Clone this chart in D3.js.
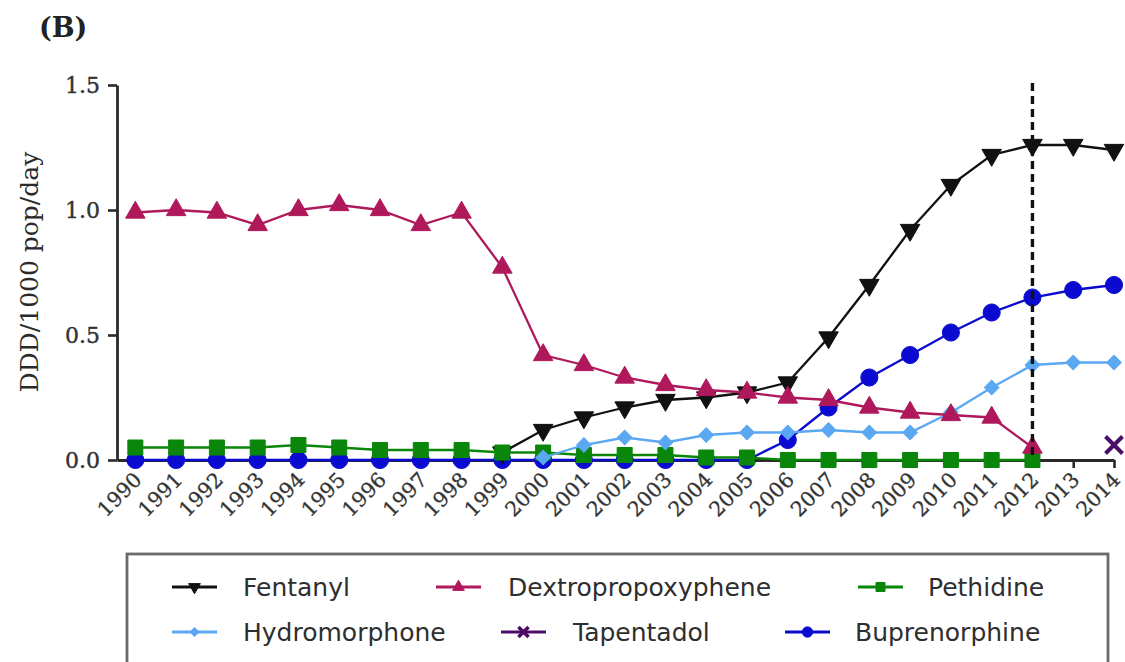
<!DOCTYPE html>
<html>
<head>
<meta charset="utf-8">
<script src="https://cdn.jsdelivr.net/npm/d3@7/dist/d3.min.js"></script>
<style>
  html, body { margin: 0; padding: 0; background: #fff; }
  svg { display: block; }
</style>
</head>
<body>
<svg id="chart" width="1125" height="662"></svg>
<script>
// Opioid consumption, DDD per 1000 population per day, 1990–2014
const years = [1990, 1991, 1992, 1993, 1994, 1995, 1996, 1997, 1998, 1999,
               2000, 2001, 2002, 2003, 2004, 2005, 2006, 2007, 2008, 2009,
               2010, 2011, 2012, 2013, 2014];

const fentanyl = [null, null, null, null, null, null, null, null, null, 0.03,
                  0.12, 0.17, 0.21, 0.24, 0.25, 0.27, 0.31, 0.49, 0.70, 0.92,
                  1.10, 1.22, 1.26, 1.26, 1.24];

const dextropropoxyphene = [0.99, 1.00, 0.99, 0.94, 1.00, 1.02, 1.00, 0.94, 0.99, 0.77,
                            0.42, 0.38, 0.33, 0.30, 0.28, 0.27, 0.25, 0.24, 0.21, 0.19,
                            0.18, 0.17, 0.05, null, null];

const pethidine = [0.05, 0.05, 0.05, 0.05, 0.06, 0.05, 0.04, 0.04, 0.04, 0.03,
                   0.03, 0.02, 0.02, 0.02, 0.01, 0.01, 0.00, 0.00, 0.00, 0.00,
                   0.00, 0.00, 0.00, null, null];

const hydromorphone = [null, null, null, null, null, null, null, null, null, null,
                       0.01, 0.06, 0.09, 0.07, 0.10, 0.11, 0.11, 0.12, 0.11, 0.11,
                       0.19, 0.29, 0.38, 0.39, 0.39];

const tapentadol = [null, null, null, null, null, null, null, null, null, null,
                    null, null, null, null, null, null, null, null, null, null,
                    null, null, null, null, 0.06];

const buprenorphine = [0, 0, 0, 0, 0, 0, 0, 0, 0, 0,
                       0, 0, 0, 0, 0, 0, 0.08, 0.21, 0.33, 0.42,
                       0.51, 0.59, 0.65, 0.68, 0.70];

const yTicks = [0, 0.5, 1.0, 1.5];
const markerYear = 2012;   // vertical reference line

const svg = d3.select("#chart");

const x = d3.scaleLinear().domain([1989.55, 2014]).range([117, 1114]);
const y = d3.scaleLinear().domain([0, 1.5]).range([460, 85]);

// series styling, listed in drawing order
const series = [
  { name: "Buprenorphine",      values: buprenorphine,      color: "#0a0ad0", shape: "circle" },
  { name: "Fentanyl",           values: fentanyl,           color: "#111111", shape: "down" },
  { name: "Pethidine",          values: pethidine,          color: "#0a860a", shape: "square" },
  { name: "Hydromorphone",      values: hydromorphone,      color: "#5aa8f2", shape: "diamond" },
  { name: "Dextropropoxyphene", values: dextropropoxyphene, color: "#b0185c", shape: "up" },
  { name: "Tapentadol",         values: tapentadol,         color: "#4a0d68", shape: "x" }
];

function symbolPath(shape, scale) {
  const s = scale || 1;
  switch (shape) {
    case "circle":  return d3.symbol(d3.symbolCircle, 230 * s * s)();
    case "square":  return d3.symbol(d3.symbolSquare, 225 * s * s)();
    case "diamond": return d3.symbol(d3.symbolSquare, 105 * s * s)();
    case "up":      return d3.symbol(d3.symbolTriangle, 165 * s * s)();
    case "down":    return d3.symbol(d3.symbolTriangle, 165 * s * s)();
    case "x":       return d3.symbol(d3.symbolX, 190 * s * s)();
  }
}
function symbolRotate(shape) {
  if (shape === "down") return 180;
  if (shape === "diamond") return 45;
  return 0;
}

// panel label
svg.append("text")
  .attr("x", 39).attr("y", 37)
  .attr("font-family", "DejaVu Serif")
  .attr("font-weight", "bold")
  .attr("font-size", 27)
  .attr("fill", "#222")
  .text("(B)");

// y axis
const yAxis = svg.append("g")
  .attr("transform", `translate(${x.range()[0]},0)`)
  .call(d3.axisLeft(y).tickValues(yTicks).tickFormat(d3.format(".1f")).tickSize(9).tickSizeOuter(0));
yAxis.select(".domain").attr("stroke", "#2a2a2a").attr("stroke-width", 2.8);
yAxis.selectAll(".tick line").attr("stroke", "#2a2a2a").attr("stroke-width", 2.6);
yAxis.selectAll(".tick text")
  .attr("x", -17)
  .attr("font-family", "DejaVu Serif")
  .attr("font-size", 22)
  .attr("fill", "#333")
  .attr("stroke", "#333")
  .attr("stroke-width", 0.4);

svg.append("text")
  .attr("transform", `translate(38,272) rotate(-90)`)
  .attr("text-anchor", "middle")
  .attr("font-family", "DejaVu Serif")
  .attr("font-size", 25)
  .attr("fill", "#2a2a2a")
  .text("DDD/1000 pop/day");

// x axis
const xAxis = svg.append("g")
  .attr("transform", `translate(0,${y(0)})`)
  .call(d3.axisBottom(x).tickValues(years).tickFormat(d3.format("d")).tickSize(8).tickSizeOuter(0));
xAxis.select(".domain").attr("stroke", "#2a2a2a").attr("stroke-width", 2.8);
xAxis.selectAll(".tick line").attr("stroke", "#2a2a2a").attr("stroke-width", 2.6);
xAxis.selectAll(".tick text")
  .attr("x", 0).attr("y", 0).attr("dy", "0.35em")
  .attr("transform", "translate(2,16) rotate(-45)")
  .attr("text-anchor", "end")
  .attr("font-family", "DejaVu Serif")
  .attr("font-size", 20.5)
  .attr("fill", "#333")
  .attr("stroke", "#333")
  .attr("stroke-width", 0.3);

// series lines and markers
const line = d3.line()
  .defined(d => d.v !== null)
  .x(d => x(d.year))
  .y(d => y(d.v));

series.forEach(s => {
  const pts = years.map((yr, i) => ({ year: yr, v: s.values[i] }));
  const g = svg.append("g");
  g.append("path")
    .datum(pts)
    .attr("fill", "none")
    .attr("stroke", s.color)
    .attr("stroke-width", 2.3)
    .attr("d", line);
  g.selectAll("path.mk")
    .data(pts.filter(d => d.v !== null))
    .join("path")
    .attr("class", "mk")
    .attr("transform", d => `translate(${x(d.year)},${y(d.v)}) rotate(${symbolRotate(s.shape)})`)
    .attr("d", symbolPath(s.shape))
    .attr("fill", s.shape === "x" ? "none" : s.color)
    .attr("stroke", s.color)
    .attr("stroke-width", s.shape === "x" ? 4 : 1);
});

// dashed reference line
svg.append("line")
  .attr("x1", x(markerYear)).attr("x2", x(markerYear))
  .attr("y1", y(1.5) - 2).attr("y2", y(0))
  .attr("stroke", "#111")
  .attr("stroke-width", 3.4)
  .attr("stroke-dasharray", "8,5");

// legend
svg.append("rect")
  .attr("x", 127).attr("y", 554)
  .attr("width", 981).attr("height", 160)
  .attr("fill", "#fff")
  .attr("stroke", "#6a6a6a")
  .attr("stroke-width", 2.8);

const legendItems = [
  { name: "Fentanyl",           sx: 172, tx: 243, row: 0 },
  { name: "Dextropropoxyphene", sx: 436, tx: 508, row: 0 },
  { name: "Pethidine",          sx: 858, tx: 928, row: 0 },
  { name: "Hydromorphone",      sx: 172, tx: 243, row: 1 },
  { name: "Tapentadol",         sx: 501, tx: 573, row: 1 },
  { name: "Buprenorphine",      sx: 785, tx: 855, row: 1 }
];
const rowY = [587, 632];

legendItems.forEach(item => {
  const s = series.find(d => d.name === item.name);
  const cy = rowY[item.row];
  const g = svg.append("g");
  g.append("line")
    .attr("x1", item.sx).attr("x2", item.sx + 45)
    .attr("y1", cy).attr("y2", cy)
    .attr("stroke", s.color).attr("stroke-width", 3);
  g.append("path")
    .attr("transform", `translate(${item.sx + 22.5},${cy}) rotate(${symbolRotate(s.shape)})`)
    .attr("d", symbolPath(s.shape, 0.6))
    .attr("fill", s.shape === "x" ? "none" : s.color)
    .attr("stroke", s.color)
    .attr("stroke-width", s.shape === "x" ? 3.5 : 1);
  g.append("text")
    .attr("x", item.tx).attr("y", cy)
    .attr("dy", "0.36em")
    .attr("font-family", "DejaVu Sans")
    .attr("font-size", 25)
    .attr("fill", "#2e2e2e")
    .text(item.name);
});
</script>
</body>
</html>
